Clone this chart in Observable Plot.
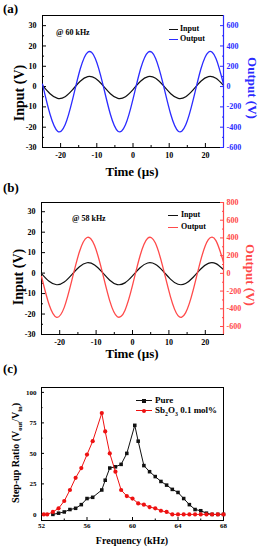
<!DOCTYPE html>
<html><head><meta charset="utf-8">
<script src="https://cdn.jsdelivr.net/npm/d3@7"></script>
<script src="https://cdn.jsdelivr.net/npm/@observablehq/plot@0.6"></script>
<style>
body{margin:0;background:#fff;}
#root{position:relative;width:262px;height:550px;overflow:hidden;font-family:"Liberation Serif","Times New Roman",serif;font-weight:bold;color:#000;}
.pl{position:absolute;left:0;}
.lab{position:absolute;white-space:nowrap;font-weight:bold;line-height:1;}
.sw{position:absolute;height:0;}
</style></head><body><div id="root"></div>
<script>
// ---------- data ----------
const timeUs = [-25,-22.92,-20.83,-18.75,-16.67,-14.58,-12.5,-10.42,-8.33,-6.25,-4.17,-2.08,0,2.08,4.17,6.25,8.33,10.42,12.5,14.58,16.67,18.75,20.83,22.92,25];
// (a) 60 kHz
const inputA  = [0.57,-3.51,-5.80,-4.96,-1.47,2.61,4.90,4.06,0.57,-3.51,-5.80,-4.96,-1.47,2.61,4.90,4.06,0.57,-3.51,-5.80,-4.96,-1.47,2.61,4.90,4.06,0.57];
const outputA = [24,-273,-439,-377,-124,173,339,277,24,-273,-439,-377,-124,173,339,277,24,-273,-439,-377,-124,173,339,277,24];
// (b) 58 kHz
const inputB  = [-0.20,-3.98,-5.69,-4.36,-0.73,3.13,5.07,3.97,0.46,-3.48,-5.62,-4.77,-1.40,2.60,4.95,4.34,1.11,-2.91,-5.47,-5.10,-2.03,2.02,4.76,4.65,1.74];
const outputB = [-35,-352,-496,-384,-80,244,405,314,20,-310,-489,-418,-136,199,396,345,74,-262,-477,-446,-189,150,380,370,127];
// (c) step-up ratio
const pureFreq  = [53,53.5,54,54.5,55,55.5,56,56.5,57.3,57.6,58,58.5,59,59.5,60.2,60.5,61,61.5,62,62.5,63,63.5,64,64.5,65,65.5,66,66.5,67,67.5,68];
const pureRatio = [0,1,2,4,5,8,13,14,20,28,38,39,41,50,73,60,40,35,31,27,24,20.5,18,13,8,4,3,1,0,0,0];
const sbFreq  = [52.2,52.5,53,53.5,54,54.5,55,55.5,56,56.5,57.3,57.6,58,58.5,59,59.5,60,60.5,61,61.5,62,62.5,63,63.5,64,64.5,65,65.5,66,66.5,67,67.5,68];
const sbRatio = [0,0,2,5,11,20,30,38,49,60,83,68,50,35,20,15,13,9,8,6,5,3,2,0,0,0,0,0,0,0,0,0,0];
// ticks
const timeTicks = [-20,-10,0,10,20];
const timeMinor = [-15,-5,5,15];
const inputTicks = [-30,-20,-10,0,10,20,30];
const inputMinor = [-25,-15,-5,5,15,25];
const outTicksA = [-600,-400,-200,0,200,400,600];
const outMinorA = [-500,-300,-100,100,300,500];
const outTicksB = [-600,-400,-200,0,200,400,600,800];
const outMinorB = [-500,-300,-100,100,300,500,700];
const freqTicks = [52,56,60,64,68];
const freqMinor = [54,58,62,66];
const ratioTicks = [0,25,50,75,100];
const ratioMinor = [12.5,37.5,62.5,87.5];

const BLUE = "#2b2bff", RED_B = "#ff4a4a", RED_C = "#ee1111";
const root = document.getElementById("root");
const fmt = d => String(d);
const blank = () => "";

function place(svg, top) {
  const d = document.createElement("div");
  d.className = "pl"; d.style.top = top + "px";
  d.appendChild(svg); root.appendChild(d);
}
function txt(html, css) {
  const d = document.createElement("div");
  d.className = "lab"; d.innerHTML = html;
  Object.assign(d.style, css); root.appendChild(d);
}
function swatch(x, y, w, color, width) {
  const d = document.createElement("div");
  d.className = "sw";
  Object.assign(d.style, {left: x + "px", top: y + "px", width: w + "px", borderTop: width + "px solid " + color});
  root.appendChild(d);
}

function wavePanel(o) {
  const common = {
    width: 262, height: o.h, marginTop: o.mt, marginBottom: o.mb, marginLeft: o.ml, marginRight: o.mr,
    style: {fontFamily: "Liberation Serif, serif", fontWeight: "bold", fontSize: "8px", background: "transparent", overflow: "visible"}
  };
  const p1 = Plot.plot({
    ...common,
    x: {domain: [-25, 25]},
    y: {domain: o.yIn},
    marks: [
      Plot.frame({stroke: "#000"}),
      Plot.axisX({ticks: timeTicks, tickSize: -4, tickPadding: 8.5, tickFormat: fmt, label: null}),
      Plot.axisX({ticks: timeMinor, tickSize: -2, tickFormat: blank, label: null}),
      Plot.axisY({ticks: inputTicks, tickSize: -4, tickPadding: 10, tickFormat: fmt, label: null}),
      Plot.axisY({ticks: inputMinor, tickSize: -2, tickFormat: blank, label: null}),
      Plot.line(timeUs, {x: timeUs, y: o.input, curve: "natural", stroke: "#111", strokeWidth: 1.2})
    ]
  });
  const p2 = Plot.plot({
    ...common,
    style: {...common.style, color: o.color},
    x: {domain: [-25, 25], axis: null},
    y: {domain: o.yOut},
    marks: [
      Plot.ruleX([25], {stroke: o.color, strokeWidth: 1.2}),
      Plot.axisY({anchor: "right", ticks: o.outTicks, tickSize: -4, tickPadding: 7, tickFormat: fmt, label: null}),
      Plot.axisY({anchor: "right", ticks: o.outMinor, tickSize: -2, tickFormat: blank, label: null}),
      Plot.line(timeUs, {x: timeUs, y: o.output, curve: "natural", stroke: o.color, strokeWidth: 1.3})
    ]
  });
  place(p1, o.top); place(p2, o.top);
}

// (a)
wavePanel({top: 0, h: 180, mt: 15, mb: 33, ml: 42, mr: 39, yIn: [-30, 35], yOut: [-600, 700],
  outTicks: outTicksA, outMinor: outMinorA, color: BLUE, input: inputA, output: outputA});
txt("(a)", {left: "3px", top: "2px", fontSize: "13px"});
txt("Input (V)", {left: "20px", top: "93px", fontSize: "14px", transform: "translate(-50%,-50%) rotate(-90deg)"});
txt("Output (V)", {left: "252px", top: "88px", fontSize: "13px", color: BLUE, transform: "translate(-50%,-50%) rotate(90deg)"});
txt("Time (µs)", {left: "132px", top: "171px", fontSize: "13px", transform: "translate(-50%,-50%)"});
txt("@ 60 kHz", {left: "56px", top: "29px", fontSize: "8px"});
swatch(169, 29, 9, "#111", 1.2); txt("Input", {left: "180px", top: "25px", fontSize: "8px"});
swatch(169, 39, 9, BLUE, 1.3); txt("Output", {left: "180px", top: "35px", fontSize: "8px"});

// (b)
wavePanel({top: 180, h: 180, mt: 22, mb: 26, ml: 41, mr: 39, yIn: [-30, 34.5], yOut: [-690, 800],
  outTicks: outTicksB, outMinor: outMinorB, color: RED_B, input: inputB, output: outputB});
txt("(b)", {left: "3px", top: "181px", fontSize: "13px"});
txt("Input (V)", {left: "19px", top: "277px", fontSize: "14px", transform: "translate(-50%,-50%) rotate(-90deg)"});
txt("Output (V)", {left: "250px", top: "275px", fontSize: "13px", color: RED_B, transform: "translate(-50%,-50%) rotate(90deg)"});
txt("Time (µs)", {left: "132px", top: "353px", fontSize: "13px", transform: "translate(-50%,-50%)"});
txt("@ 58 kHz", {left: "72px", top: "215px", fontSize: "8px"});
swatch(168, 215, 10, "#111", 1.2); txt("Input", {left: "181px", top: "211px", fontSize: "8px"});
swatch(168, 227, 10, RED_B, 1.3); txt("Output", {left: "181px", top: "223px", fontSize: "8px"});

// (c)
const pc = Plot.plot({
  width: 262, height: 190, marginTop: 27, marginBottom: 30, marginLeft: 41, marginRight: 39,
  style: {fontFamily: "Liberation Serif, serif", fontWeight: "bold", fontSize: "7px", background: "transparent", overflow: "visible"},
  x: {domain: [52, 68]},
  y: {domain: [-5, 104]},
  marks: [
    Plot.frame({stroke: "#000"}),
    Plot.axisX({ticks: freqTicks, tickSize: -3, tickPadding: 6, tickFormat: fmt, label: null}),
    Plot.axisX({ticks: freqMinor, tickSize: -1.5, tickFormat: blank, label: null}),
    Plot.axisY({ticks: ratioTicks, tickSize: -3, tickPadding: 8, tickFormat: fmt, label: null}),
    Plot.axisY({ticks: ratioMinor, tickSize: -1.5, tickFormat: blank, label: null}),
    Plot.line(pureFreq, {x: pureFreq, y: pureRatio, stroke: "#111", strokeWidth: 1}),
    Plot.dot(pureFreq, {x: pureFreq, y: pureRatio, symbol: "square", r: 2, fill: "#111", stroke: null}),
    Plot.line(sbFreq, {x: sbFreq, y: sbRatio, stroke: RED_C, strokeWidth: 1}),
    Plot.dot(sbFreq, {x: sbFreq, y: sbRatio, symbol: "circle", r: 2.1, fill: RED_C, stroke: null})
  ]
});
place(pc, 360);
txt("(c)", {left: "3px", top: "362px", fontSize: "13px"});
txt("Step-up Ratio (V<sub style='font-size:65%'>out</sub>/V<sub style='font-size:65%'>in</sub>)", {left: "17px", top: "453px", fontSize: "10px", transform: "translate(-50%,-50%) rotate(-90deg)"});
txt("Frequency (kHz)", {left: "132px", top: "541px", fontSize: "10px", transform: "translate(-50%,-50%)"});
// legend (c)
function legSym(x, y, color, shape) {
  const d = document.createElement("div");
  Object.assign(d.style, {position: "absolute", left: (x - 2) + "px", top: (y - 2) + "px", width: "4px", height: "4px", background: color, borderRadius: shape === "circle" ? "50%" : "0"});
  root.appendChild(d);
}
swatch(136, 400, 16, "#111", 1); legSym(144, 400.5, "#111", "square");
txt("Pure", {left: "155px", top: "396px", fontSize: "9px"});
swatch(136, 410, 16, RED_C, 1); legSym(144, 410.5, RED_C, "circle");
txt("Sb<sub style='font-size:65%'>2</sub>O<sub style='font-size:65%'>3</sub> 0.1 mol%", {left: "155px", top: "406px", fontSize: "9px"});
</script></body></html>
